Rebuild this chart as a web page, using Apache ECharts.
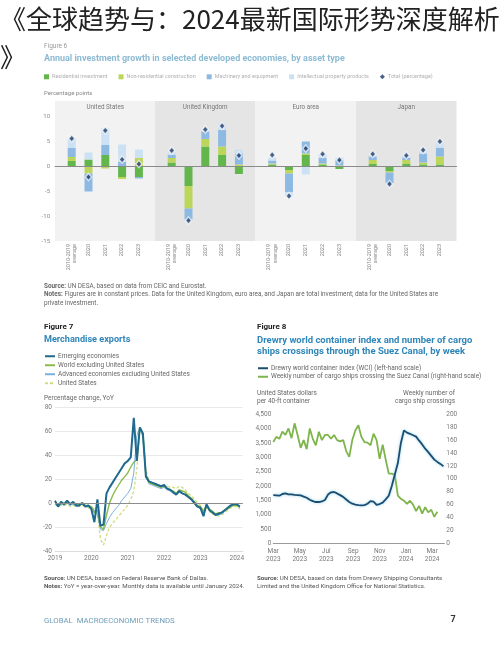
<!DOCTYPE html>
<html><head><meta charset="utf-8">
<script src="https://cdn.jsdelivr.net/npm/echarts@6/dist/echarts.min.js"></script>
<style>html,body{margin:0;padding:0;background:#fff}#c{width:500px;height:647px}</style>
</head><body><div id="c"></div>
<script>
// ---------- Figure 6 data (percentage points) ----------
const f6Categories = ['2010-2019\naverage', '2020', '2021', '2022', '2023'];
const f6Panels = ['United States', 'United Kingdom', 'Euro area', 'Japan'];
const f6SeriesNames = ['Residential investment', 'Non-residential construction', 'Machinery and equipment', 'Intellectual property products', 'Total (percentage)'];
const usResidential = [1.0, 1.3, 2.2, -2.2, -2.2];
const usNonResidential = [0.8, -1.5, -0.5, -0.4, 1.6];
const usMachinery = [1.8, -3.6, 2.0, 0.9, -0.3];
const usIntellectual = [2.0, 1.4, 3.3, 3.4, 1.7];
const usTotal = [5.5, -2.2, 7.1, 1.3, 0.4];
const ukResidential = [0.7, -4.0, 3.9, 2.2, -1.6];
const ukNonResidential = [0.9, -4.5, 1.5, 1.7, 0.3];
const ukMachinery = [0.6, -2.2, 1.5, 3.3, 2.2];
const ukIntellectual = [0.5, -0.4, 0.4, 1.3, 0.8];
const ukTotal = [3.1, -10.9, 7.3, 8.0, 2.1];
const eaResidential = [0.3, -0.8, 2.2, 0.3, -0.6];
const eaNonResidential = [0.2, -0.7, 0.3, 0.2, 0.1];
const eaMachinery = [0.6, -3.7, 2.4, 1.1, 1.1];
const eaIntellectual = [0.6, -0.8, -1.7, 0.8, 0.5];
const eaTotal = [2.2, -6.0, 3.5, 2.4, 1.2];
const jpResidential = [0.4, -1.0, 0.4, 0.3, 0.3];
const jpNonResidential = [0.8, -0.3, 0.8, 0.4, 1.6];
const jpMachinery = [0.7, -2.1, 0.5, 1.8, 1.7];
const jpIntellectual = [0.3, -0.2, 0.4, 0.6, 1.1];
const jpTotal = [2.4, -3.6, 2.1, 3.2, 4.9];

// ---------- Figure 7 data (percentage change, YoY; monthly from Jan 2019) ----------
const f7Start = [2019, 1];
const f7Names = ['Emerging economies', 'World excluding United States', 'Advanced economies excluding United States', 'United States'];
const f7Emerging = [2,-3,1,-1,2,-1,1,-2,-2,0,-3,-2,
  -5,-16,3,-19,-18,8,13,17,21,25,29,33,
  35,38,71,35,63,58,22,18,17,16,15,14,
  15,12,11,9,7,10,8,7,5,3,0,-3,
  -4,-11,-1,-6,-8,-10,-9,-8,-6,-4,-2,-1,
  -1,-3];
const f7World = [1,-2,0,-1,1,-1,0,-2,-1,0,-2,-2,
  -3,-8,-6,-20,-22,-10,0,6,11,15,19,22,
  25,30,34,36,63,58,24,17,16,15,14,13,
  14,12,11,10,8,11,10,9,6,4,1,-2,
  -3,-7,-2,-5,-7,-9,-8,-8,-6,-5,-3,-2,
  -2,-3];
const f7Advanced = [-1,-3,-1,-2,0,-2,-1,-3,-2,-1,-3,-3,
  -3,-6,-10,-22,-23,-17,-12,-8,-5,-2,2,5,
  8,12,25,56,63,55,22,16,15,14,13,12,
  13,11,10,8,7,9,8,7,5,3,0,-3,
  -5,-8,-3,-6,-8,-10,-10,-9,-7,-5,-3,-2,
  -2,-4];
const f7US = [-1,-3,-2,-2,-1,-3,-2,-3,-3,-2,-3,-4,
  -4,-5,-9,-30,-35,-27,-20,-17,-14,-11,-8,-5,
  -2,3,10,28,62,56,28,18,17,16,15,14,
  15,14,13,13,12,14,13,11,8,6,3,0,
  -2,-6,-4,-7,-9,-10,-11,-10,-8,-6,-4,-3,
  -3,-5];

// ---------- Figure 8 data (weekly from 1 Mar 2023) ----------
const f8Start = '2023-03-01';
const f8End = '2024-03-29';
const f8TickDates = ['2023-03-01','2023-05-01','2023-07-01','2023-09-01','2023-11-01','2024-01-01','2024-03-01'];
const f8Names = ['Drewry world container index (WCI) (left-hand scale)', 'Weekly number of cargo ships crossing the Suez Canal (right-hand scale)'];
const f8WCI = [1680,1670,1660,1720,1740,1710,1705,1690,1680,1670,1630,1590,1520,1470,1440,1440,1460,1510,1700,1780,
  1790,1740,1680,1620,1530,1440,1380,1350,1330,1320,1330,1380,1470,1450,1340,1370,1420,1530,1660,2000,
  2400,2800,3500,3940,3860,3820,3770,3720,3580,3450,3300,3180,3050,2920,2840,2770,2690];
const f8Suez = [157,165,162,173,168,178,163,186,168,148,160,146,178,162,152,173,160,168,168,162,
  168,160,158,160,143,134,160,175,183,165,157,156,152,170,160,131,153,130,108,108,
  106,74,69,66,61,66,60,50,58,46,56,48,52,41,49];

// ---------- layout / styles ----------
const FONT = 'Roboto, "Noto Sans", sans-serif';
const f6Colors = ['#62b64b', '#bcd65c', '#8db9e2', '#cce2f4', '#1a3b6c'];
const panelLeft = [55, 155, 255.5, 356];
const panelW = 100.5;
const panelBg = ['#f2f2f2', '#e6e5e5', '#f2f2f2', '#e6e5e5'];
const panelData = [
  [usResidential, usNonResidential, usMachinery, usIntellectual, usTotal],
  [ukResidential, ukNonResidential, ukMachinery, ukIntellectual, ukTotal],
  [eaResidential, eaNonResidential, eaMachinery, eaIntellectual, eaTotal],
  [jpResidential, jpNonResidential, jpMachinery, jpIntellectual, jpTotal]
];

const months = [];
for (let i = 0; i < 63; i++) {
  const y = f7Start[0] + Math.floor((f7Start[1] - 1 + i) / 12);
  const m = (f7Start[1] - 1 + i) % 12 + 1;
  months.push(y + '-' + (m < 10 ? '0' + m : m));
}
const DAY = 86400000;
function utc(s) { const p = s.split('-').map(Number); return Date.UTC(p[0], p[1] - 1, p[2]); }
const f8T0 = utc(f8Start);
function dayOffset(s) { return Math.round((utc(s) - f8T0) / DAY); }
const monthAbbr = ['Jan','Feb','Mar','Apr','May','Jun','Jul','Aug','Sep','Oct','Nov','Dec'];

const grid = [], xAxis = [], yAxis = [], series = [];
for (let i = 0; i < 4; i++) {
  grid.push({ left: panelLeft[i], top: 101, width: panelW, height: 140, show: true, backgroundColor: panelBg[i], borderWidth: 0, outerBoundsMode: 'none' });
  xAxis.push({ gridIndex: i, type: 'value', min: 0, max: 1, z: 5,
    axisLine: { show: true, onZero: true, lineStyle: { color: '#8a8a8a', width: 1 } },
    axisTick: { show: false }, axisLabel: { show: false }, splitLine: { show: false } });
  yAxis.push({ gridIndex: i, type: 'value', min: -15, max: 13, interval: 5,
    axisLine: { show: false }, axisTick: { show: false }, splitLine: { show: false },
    axisLabel: { show: i === 0, showMaxLabel: false, fontSize: 6, color: '#8a8a8a', margin: 5, fontFamily: FONT } });
}
for (let i = 0; i < 4; i++) {
  grid.push({ left: panelLeft[i] + 8.3, top: 116, width: 84, height: 125, outerBoundsMode: 'none' });
  xAxis.push({ gridIndex: 4 + i, type: 'category', data: f6Categories,
    axisLine: { show: false, onZero: false }, axisTick: { show: false }, splitLine: { show: false },
    axisLabel: { rotate: 90, fontSize: 5.5, lineHeight: 6.5, color: '#8a8a8a', margin: 3, fontFamily: FONT, interval: 0 } });
  yAxis.push({ gridIndex: 4 + i, type: 'value', min: -15, max: 10, show: false });
  const d = panelData[i];
  for (let s = 0; s < 4; s++) {
    series.push({ type: 'bar', name: f6SeriesNames[s], xAxisIndex: 4 + i, yAxisIndex: 4 + i, stack: 'p' + i,
      data: d[s], barWidth: 8, itemStyle: { color: f6Colors[s] }, silent: true });
  }
  series.push({ type: 'scatter', name: f6SeriesNames[4], xAxisIndex: 4 + i, yAxisIndex: 4 + i, data: d[4],
    symbol: 'diamond', symbolSize: [6, 7], z: 6,
    itemStyle: { color: f6Colors[4], borderColor: 'rgba(255,255,255,0.85)', borderWidth: 1.5 }, silent: true });
}
// Figure 7 grid (index 8)
grid.push({ left: 55, top: 407, width: 62 * 3.03, height: 144, outerBoundsMode: 'none' });
xAxis.push({ gridIndex: 8, type: 'category', data: months, boundaryGap: false,
  axisLine: { show: true, onZero: false, lineStyle: { color: '#dcdcdc' } }, axisTick: { show: false },
  splitLine: { show: false },
  axisLabel: { interval: function (idx) { return idx % 12 === 0; }, formatter: function (v) { return v.slice(0, 4); },
    fontSize: 6.5, color: '#7a7a7a', margin: 4, fontFamily: FONT } });
yAxis.push({ gridIndex: 8, type: 'value', min: -40, max: 80, interval: 20,
  axisLine: { show: false }, axisTick: { show: false },
  splitLine: { show: true, lineStyle: { color: '#e9e9e9', width: 1 } },
  axisLabel: { fontSize: 6.5, color: '#7a7a7a', margin: 3, fontFamily: FONT } });
const f7Style = [
  { name: f7Names[3], data: f7US, color: '#d2dc7c', width: 1.3, type: [3, 2] },
  { name: f7Names[2], data: f7Advanced, color: '#79b0dd', width: 1, type: 'solid' },
  { name: f7Names[1], data: f7World, color: '#8cba4a', width: 1.4, type: 'solid' },
  { name: f7Names[0], data: f7Emerging, color: '#1f6a8d', width: 2, type: 'solid' }
];
f7Style.forEach(function (s, k) {
  const ser = { type: 'line', name: s.name, xAxisIndex: 8, yAxisIndex: 8, data: s.data, symbol: 'none', silent: true,
    itemStyle: { color: s.color }, lineStyle: { color: s.color, width: s.width, type: s.type } };
  if (k === 0) {
    ser.markLine = { silent: true, symbol: 'none', label: { show: false }, lineStyle: { color: '#8c8c8c', type: 'solid', width: 1 },
      data: [{ yAxis: 0 }] };
  }
  series.push(ser);
});
// Figure 8 grid (index 9): x = days since f8Start
grid.push({ left: 273.3, top: 414.3, width: 171, height: 129, outerBoundsMode: 'none' });
xAxis.push({ gridIndex: 9, type: 'value', min: 0, max: dayOffset(f8End),
  axisLine: { show: true, onZero: false, lineStyle: { color: '#9a9a9a' } }, axisTick: { show: false }, splitLine: { show: false },
  axisLabel: { customValues: f8TickDates.map(dayOffset),
    formatter: function (v) { const d = new Date(f8T0 + v * DAY); return monthAbbr[d.getUTCMonth()] + '\n' + d.getUTCFullYear(); },
    fontSize: 6.5, lineHeight: 8, color: '#7a7a7a', margin: 4, fontFamily: FONT, hideOverlap: false } });
yAxis.push({ gridIndex: 9, type: 'value', min: 0, max: 4500, interval: 500, position: 'left',
  axisLine: { show: false }, axisTick: { show: false }, splitLine: { show: false },
  axisLabel: { fontSize: 6.5, color: '#7a7a7a', margin: 2, fontFamily: FONT,
    formatter: function (v) { return v >= 1000 ? Math.floor(v / 1000) + ',' + String(v % 1000).padStart(3, '0') : String(v); } } });
yAxis.push({ gridIndex: 9, type: 'value', min: 0, max: 200, interval: 20, position: 'right',
  axisLine: { show: false }, axisTick: { show: false }, splitLine: { show: false },
  axisLabel: { fontSize: 6.5, color: '#7a7a7a', margin: 2, fontFamily: FONT } });
series.push({ type: 'line', name: f8Names[1], xAxisIndex: 9, yAxisIndex: 10, symbol: 'none', silent: true,
  data: f8Suez.map(function (v, k) { return [7 * k, v]; }),
  itemStyle: { color: '#7db54a' }, lineStyle: { color: '#7db54a', width: 1.8 } });
series.push({ type: 'line', name: f8Names[0], xAxisIndex: 9, yAxisIndex: 9, symbol: 'none', silent: true,
  data: f8WCI.map(function (v, k) { return [7 * k, v]; }),
  itemStyle: { color: '#1c4d70' }, lineStyle: { color: '#1c4d70', width: 1.8, shadowColor: 'rgba(140,210,235,0.9)', shadowBlur: 3 } });

// ---------- texts ----------
function txt(x, y, text, opt) {
  opt = opt || {};
  return { type: 'text', x: x, y: y, silent: true, z: 100,
    style: { text: text, fill: opt.color || '#666', fontSize: opt.size || 6, fontWeight: opt.weight || 'normal',
      fontFamily: opt.family || FONT, align: opt.align || 'left', verticalAlign: 'middle',
      rich: opt.rich } };
}
const richB = function (size, color) {
  return { b: { fontWeight: 'bold', fontSize: size, fill: color, fontFamily: FONT },
           n: { fontSize: size, fontFamily: FONT, fill: color } };
};
const graphic = [
  txt(0, 19, '《全球趋势与：2024最新国际形势深度解析', { size: 26, color: '#222', family: '"Noto Sans CJK SC", sans-serif' }),
  txt(0, 57, '》', { size: 26, color: '#222', family: '"Noto Sans CJK SC", sans-serif' }),
  txt(44, 46, 'Figure 6', { size: 6.5, color: '#9a9a9a' }),
  txt(44, 58.5, 'Annual investment growth in selected developed economies, by asset type', { size: 9, weight: 'bold', color: '#8dbbd3' }),
  txt(44, 93, 'Percentage points', { size: 6, color: '#888' }),
  txt(44, 286, '{b|Source:}{n| UN DESA, based on data from CEIC and Eurostat.}', { rich: richB(6.4, '#666') }),
  txt(44, 294.5, '{b|Notes:}{n| Figures are in constant prices. Data for the United Kingdom, euro area, and Japan are total investment; data for the United States are}', { rich: richB(6.4, '#666') }),
  txt(44, 303, 'private investment.', { size: 6.4, color: '#666' }),
  txt(44, 327, 'Figure 7', { size: 8, weight: 'bold', color: '#222' }),
  txt(44, 340, 'Merchandise exports', { size: 9.1, weight: 'bold', color: '#2f86b8' }),
  txt(44, 398, 'Percentage change, YoY', { size: 6.5, color: '#666' }),
  txt(44, 578, '{b|Source:}{n| UN DESA, based on Federal Reserve Bank of Dallas.}', { rich: richB(6.2, '#555') }),
  txt(44, 586.5, '{b|Notes:}{n| YoY = year-over-year. Monthly data is available until January 2024.}', { rich: richB(6.2, '#555') }),
  txt(257, 327, 'Figure 8', { size: 8, weight: 'bold', color: '#222' }),
  txt(257, 340.5, 'Drewry world container index and number of cargo', { size: 9.5, weight: 'bold', color: '#2f86b8' }),
  txt(257, 351.8, 'ships crossings through the Suez Canal, by week', { size: 9.5, weight: 'bold', color: '#2f86b8' }),
  txt(257, 393, 'United States dollars', { size: 6.5, color: '#666' }),
  txt(257, 401, 'per 40-ft container', { size: 6.5, color: '#666' }),
  txt(455, 393, 'Weekly number of', { size: 6.5, color: '#666', align: 'right' }),
  txt(455, 401, 'cargo ship crossings', { size: 6.5, color: '#666', align: 'right' }),
  txt(257, 578, '{b|Source:}{n| UN DESA, based on data from Drewry Shipping Consultants}', { rich: richB(6.2, '#555') }),
  txt(257, 586.5, 'Limited and the United Kingdom Office for National Statistics.', { size: 6.2, color: '#555' }),
  txt(44, 621, 'GLOBAL  MACROECONOMIC TRENDS', { size: 7.8, color: '#6f9db9' }),
  txt(453, 620, '7', { size: 9, weight: 'bold', color: '#333', align: 'center' })
];
f6Panels.forEach(function (p, i) {
  graphic.push(txt(panelLeft[i] + panelW / 2, 107.5, p, { size: 6.3, color: '#777', align: 'center' }));
});

const legend = [
  { left: 44, top: 73.8, itemWidth: 5, itemHeight: 5, itemGap: 11, selectedMode: false, padding: 0, itemStyle: { borderWidth: 0 },
    textStyle: { fontSize: 5.5, color: '#b0b0b0', fontFamily: FONT, padding: [0, 0, 0, -2] },
    data: [
      { name: f6SeriesNames[0], icon: 'rect' }, { name: f6SeriesNames[1], icon: 'rect' },
      { name: f6SeriesNames[2], icon: 'rect' }, { name: f6SeriesNames[3], icon: 'rect' },
      { name: f6SeriesNames[4], icon: 'diamond' }] },
  { left: 44, top: 352.5, orient: 'vertical', itemWidth: 10, itemHeight: 1, itemGap: 1.5, selectedMode: false, padding: 0,
    textStyle: { fontSize: 6.5, lineHeight: 7.5, color: '#666', fontFamily: FONT, padding: [0, 0, 0, -2] },
    data: f7Names },
  { left: 257, top: 364.5, orient: 'vertical', itemWidth: 10, itemHeight: 1, itemGap: 1, selectedMode: false, padding: 0,
    textStyle: { fontSize: 6.5, lineHeight: 7.5, color: '#666', fontFamily: FONT, padding: [0, 0, 0, -2] },
    data: f8Names }
];

const chart = echarts.init(document.getElementById('c'), null, { renderer: 'canvas', width: 500, height: 647 });
chart.setOption({
  animation: false,
  backgroundColor: '#ffffff',
  textStyle: { fontFamily: FONT },
  grid: grid, xAxis: xAxis, yAxis: yAxis, series: series, legend: legend, graphic: graphic
});
</script></body></html>
